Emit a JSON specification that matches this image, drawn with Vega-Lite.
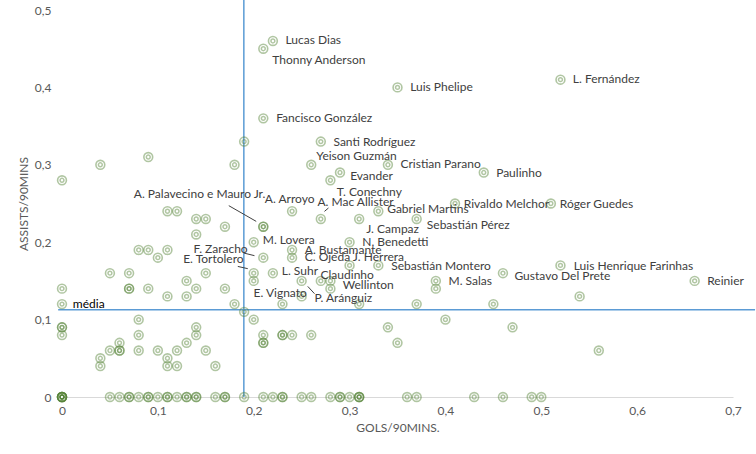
{
  "$schema": "https://vega.github.io/schema/vega-lite/v6.json",
  "width": 671,
  "height": 387,
  "autosize": {"type": "none"},
  "padding": {"left": 62, "top": 10, "right": 23, "bottom": 57},
  "background": "white",
  "config": {
    "view": {"stroke": null},
    "font": "Lato",
    "axis": {"labelFont": "Lato", "titleFont": "Lato", "labelColor": "#595959", "titleColor": "#595959", "labelFontSize": 12, "titleFontSize": 12, "titleFontWeight": "normal", "grid": false, "ticks": false, "labelFlush": false, "labelOverlap": false}
  },
  "datasets": {
    "points": [
      {"gols": 0.22, "assists": 0.46, "name": "Lucas Dias"},
      {"gols": 0.21, "assists": 0.45, "name": "Thonny Anderson"},
      {"gols": 0.35, "assists": 0.40, "name": "Luis Phelipe"},
      {"gols": 0.52, "assists": 0.41, "name": "L. Fernández"},
      {"gols": 0.21, "assists": 0.36, "name": "Fancisco González"},
      {"gols": 0.27, "assists": 0.33, "name": "Santi Rodríguez"},
      {"gols": 0.26, "assists": 0.30, "name": "Yeison Guzmán"},
      {"gols": 0.34, "assists": 0.30, "name": "Cristian Parano"},
      {"gols": 0.29, "assists": 0.29, "name": "Evander"},
      {"gols": 0.44, "assists": 0.29, "name": "Paulinho"},
      {"gols": 0.28, "assists": 0.28, "name": "T. Conechny"},
      {"gols": 0.24, "assists": 0.24, "name": "A. Arroyo"},
      {"gols": 0.27, "assists": 0.23, "name": "A. Mac Allister"},
      {"gols": 0.33, "assists": 0.24, "name": "Gabriel Martins"},
      {"gols": 0.41, "assists": 0.25, "name": "Rivaldo Melchor"},
      {"gols": 0.51, "assists": 0.25, "name": "Róger Guedes"},
      {"gols": 0.37, "assists": 0.23, "name": "Sebastián Pérez"},
      {"gols": 0.31, "assists": 0.23, "name": "J. Campaz"},
      {"gols": 0.20, "assists": 0.20, "name": "M. Lovera"},
      {"gols": 0.30, "assists": 0.20, "name": "N. Benedetti"},
      {"gols": 0.24, "assists": 0.19, "name": "A. Bustamante"},
      {"gols": 0.24, "assists": 0.18, "name": "C. Ojeda"},
      {"gols": 0.30, "assists": 0.17, "name": "J. Herrera"},
      {"gols": 0.33, "assists": 0.17, "name": "Sebastián Montero"},
      {"gols": 0.39, "assists": 0.15, "name": "M. Salas"},
      {"gols": 0.52, "assists": 0.17, "name": "Luis Henrique Farinhas"},
      {"gols": 0.46, "assists": 0.16, "name": "Gustavo Del Prete"},
      {"gols": 0.66, "assists": 0.15, "name": "Reinier"},
      {"gols": 0.22, "assists": 0.16, "name": "L. Suhr"},
      {"gols": 0.27, "assists": 0.15, "name": "Claudinho"},
      {"gols": 0.28, "assists": 0.14, "name": "Wellinton"},
      {"gols": 0.25, "assists": 0.13, "name": "E. Vignato"},
      {"gols": 0.25, "assists": 0.15, "name": "P. Aránguiz"},
      {"gols": 0.21, "assists": 0.22, "name": "A. Palavecino"},
      {"gols": 0.21, "assists": 0.22, "name": "Mauro Jr."},
      {"gols": 0.21, "assists": 0.18, "name": "F. Zaracho"},
      {"gols": 0.20, "assists": 0.16, "name": "E. Tortolero"},
      {"gols": 0.19, "assists": 0.33}, {"gols": 0.09, "assists": 0.31}, {"gols": 0.04, "assists": 0.30},
      {"gols": 0.18, "assists": 0.30}, {"gols": 0.0, "assists": 0.28}, {"gols": 0.11, "assists": 0.24},
      {"gols": 0.12, "assists": 0.24}, {"gols": 0.14, "assists": 0.23}, {"gols": 0.15, "assists": 0.23},
      {"gols": 0.17, "assists": 0.22}, {"gols": 0.14, "assists": 0.21}, {"gols": 0.08, "assists": 0.19},
      {"gols": 0.09, "assists": 0.19}, {"gols": 0.11, "assists": 0.19}, {"gols": 0.10, "assists": 0.18},
      {"gols": 0.05, "assists": 0.16}, {"gols": 0.07, "assists": 0.16}, {"gols": 0.15, "assists": 0.16},
      {"gols": 0.20, "assists": 0.15}, {"gols": 0.13, "assists": 0.15}, {"gols": 0.0, "assists": 0.14},
      {"gols": 0.07, "assists": 0.14}, {"gols": 0.07, "assists": 0.14}, {"gols": 0.09, "assists": 0.14},
      {"gols": 0.14, "assists": 0.14}, {"gols": 0.17, "assists": 0.14}, {"gols": 0.11, "assists": 0.13},
      {"gols": 0.13, "assists": 0.13}, {"gols": 0.0, "assists": 0.12}, {"gols": 0.18, "assists": 0.12},
      {"gols": 0.19, "assists": 0.11}, {"gols": 0.20, "assists": 0.10}, {"gols": 0.0, "assists": 0.09},
      {"gols": 0.0, "assists": 0.09}, {"gols": 0.0, "assists": 0.08}, {"gols": 0.04, "assists": 0.05},
      {"gols": 0.04, "assists": 0.04}, {"gols": 0.05, "assists": 0.06}, {"gols": 0.06, "assists": 0.07},
      {"gols": 0.06, "assists": 0.06}, {"gols": 0.06, "assists": 0.06}, {"gols": 0.08, "assists": 0.10},
      {"gols": 0.08, "assists": 0.08}, {"gols": 0.08, "assists": 0.06}, {"gols": 0.10, "assists": 0.06},
      {"gols": 0.11, "assists": 0.05}, {"gols": 0.11, "assists": 0.04}, {"gols": 0.12, "assists": 0.04},
      {"gols": 0.12, "assists": 0.06}, {"gols": 0.13, "assists": 0.07}, {"gols": 0.14, "assists": 0.09},
      {"gols": 0.14, "assists": 0.08}, {"gols": 0.15, "assists": 0.06}, {"gols": 0.16, "assists": 0.04},
      {"gols": 0.21, "assists": 0.08}, {"gols": 0.21, "assists": 0.07}, {"gols": 0.21, "assists": 0.07},
      {"gols": 0.23, "assists": 0.08}, {"gols": 0.23, "assists": 0.08}, {"gols": 0.24, "assists": 0.08},
      {"gols": 0.26, "assists": 0.08}, {"gols": 0.34, "assists": 0.09}, {"gols": 0.35, "assists": 0.07},
      {"gols": 0.40, "assists": 0.10}, {"gols": 0.23, "assists": 0.12}, {"gols": 0.31, "assists": 0.12},
      {"gols": 0.37, "assists": 0.12}, {"gols": 0.45, "assists": 0.12}, {"gols": 0.47, "assists": 0.09},
      {"gols": 0.56, "assists": 0.06}, {"gols": 0.54, "assists": 0.13}, {"gols": 0.28, "assists": 0.15},
      {"gols": 0.39, "assists": 0.14},
      {"gols": 0.0, "assists": 0}, {"gols": 0.0, "assists": 0}, {"gols": 0.0, "assists": 0},
      {"gols": 0.0, "assists": 0}, {"gols": 0.0, "assists": 0}, {"gols": 0.0, "assists": 0},
      {"gols": 0.05, "assists": 0}, {"gols": 0.06, "assists": 0}, {"gols": 0.07, "assists": 0},
      {"gols": 0.07, "assists": 0}, {"gols": 0.08, "assists": 0}, {"gols": 0.09, "assists": 0},
      {"gols": 0.09, "assists": 0}, {"gols": 0.10, "assists": 0}, {"gols": 0.11, "assists": 0},
      {"gols": 0.11, "assists": 0}, {"gols": 0.12, "assists": 0}, {"gols": 0.13, "assists": 0},
      {"gols": 0.13, "assists": 0}, {"gols": 0.14, "assists": 0}, {"gols": 0.14, "assists": 0},
      {"gols": 0.16, "assists": 0}, {"gols": 0.17, "assists": 0}, {"gols": 0.17, "assists": 0},
      {"gols": 0.19, "assists": 0}, {"gols": 0.21, "assists": 0}, {"gols": 0.22, "assists": 0},
      {"gols": 0.23, "assists": 0}, {"gols": 0.23, "assists": 0}, {"gols": 0.25, "assists": 0},
      {"gols": 0.26, "assists": 0}, {"gols": 0.28, "assists": 0}, {"gols": 0.29, "assists": 0},
      {"gols": 0.29, "assists": 0}, {"gols": 0.30, "assists": 0}, {"gols": 0.31, "assists": 0},
      {"gols": 0.31, "assists": 0}, {"gols": 0.31, "assists": 0}, {"gols": 0.36, "assists": 0},
      {"gols": 0.37, "assists": 0}, {"gols": 0.43, "assists": 0}, {"gols": 0.46, "assists": 0},
      {"gols": 0.49, "assists": 0}, {"gols": 0.50, "assists": 0}
    ],
    "labels": [
      {"lx": 0.2332, "ly": 0.4612, "text": "Lucas Dias", "kind": "player"},
      {"lx": 0.2193, "ly": 0.4354, "text": "Thonny Anderson", "kind": "player"},
      {"lx": 0.3632, "ly": 0.4005, "text": "Luis Phelipe", "kind": "player"},
      {"lx": 0.5329, "ly": 0.4109, "text": "L. Fernández", "kind": "player"},
      {"lx": 0.2234, "ly": 0.3605, "text": "Fancisco González", "kind": "player"},
      {"lx": 0.2832, "ly": 0.3295, "text": "Santi Rodríguez", "kind": "player"},
      {"lx": 0.2652, "ly": 0.3109, "text": "Yeison Guzmán", "kind": "player"},
      {"lx": 0.3531, "ly": 0.3005, "text": "Cristian Parano", "kind": "player"},
      {"lx": 0.3006, "ly": 0.2850, "text": "Evander", "kind": "player"},
      {"lx": 0.4529, "ly": 0.2894, "text": "Paulinho", "kind": "player"},
      {"lx": 0.2867, "ly": 0.2649, "text": "T. Conechny", "kind": "player"},
      {"lx": 0.2116, "ly": 0.2558, "text": "A. Arroyo", "kind": "player"},
      {"lx": 0.2665, "ly": 0.2519, "text": "A. Mac Allister", "kind": "player"},
      {"lx": 0.3392, "ly": 0.2429, "text": "Gabriel Martins", "kind": "player"},
      {"lx": 0.4191, "ly": 0.2497, "text": "Rivaldo Melchor", "kind": "player"},
      {"lx": 0.5193, "ly": 0.2497, "text": "Róger Guedes", "kind": "player"},
      {"lx": 0.3806, "ly": 0.2226, "text": "Sebastián Pérez", "kind": "player"},
      {"lx": 0.3173, "ly": 0.2171, "text": "J. Campaz", "kind": "player"},
      {"lx": 0.2095, "ly": 0.2023, "text": "M. Lovera", "kind": "player"},
      {"lx": 0.3132, "ly": 0.1997, "text": "N. Benedetti", "kind": "player"},
      {"lx": 0.2533, "ly": 0.1903, "text": "A. Bustamante", "kind": "player"},
      {"lx": 0.2533, "ly": 0.1804, "text": "C. Ojeda", "kind": "player"},
      {"lx": 0.3034, "ly": 0.1809, "text": "J. Herrera", "kind": "player"},
      {"lx": 0.3434, "ly": 0.1696, "text": "Sebastián Montero", "kind": "player"},
      {"lx": 0.4032, "ly": 0.1503, "text": "M. Salas", "kind": "player"},
      {"lx": 0.5339, "ly": 0.1696, "text": "Luis Henrique Farinhas", "kind": "player"},
      {"lx": 0.4720, "ly": 0.1567, "text": "Gustavo Del Prete", "kind": "player"},
      {"lx": 0.6731, "ly": 0.1503, "text": "Reinier", "kind": "player"},
      {"lx": 0.2293, "ly": 0.1632, "text": "L. Suhr", "kind": "player"},
      {"lx": 0.2697, "ly": 0.1580, "text": "Claudinho", "kind": "player"},
      {"lx": 0.2929, "ly": 0.1451, "text": "Wellinton", "kind": "player"},
      {"lx": 0.1998, "ly": 0.1344, "text": "E. Vignato", "kind": "player"},
      {"lx": 0.2634, "ly": 0.1274, "text": "P. Aránguiz", "kind": "player"},
      {"lx": 0.0749, "ly": 0.2623, "text": "A. Palavecino e Mauro Jr.", "kind": "player"},
      {"lx": 0.1372, "ly": 0.1912, "text": "F. Zaracho", "kind": "player"},
      {"lx": 0.1264, "ly": 0.1783, "text": "E. Tortolero", "kind": "player"},
      {"lx": 0.0113, "ly": 0.1205, "text": "média", "kind": "mean"}
    ],
    "leaders": [
      {"x": 0.1740, "y": 0.2472, "x2": 0.2026, "y2": 0.2269},
      {"x": 0.1897, "y": 0.1860, "x2": 0.2008, "y2": 0.1826},
      {"x": 0.1834, "y": 0.1687, "x2": 0.1938, "y2": 0.1658},
      {"x": 0.2564, "y": 0.1429, "x2": 0.2634, "y2": 0.1335},
      {"x": 0.2738, "y": 0.2398, "x2": 0.2780, "y2": 0.2442}
    ],
    "means": [
      {"x": 0.1897, "x2": 0.1897, "y": 0, "y2": 0.513},
      {"x": -0.004, "x2": 0.723, "y": 0.1128, "y2": 0.1128}
    ]
  },
  "layer": [
    {
      "data": {"name": "means"},
      "mark": {"type": "rule", "color": "#5b9bd5", "strokeWidth": 1.5},
      "encoding": {
        "x": {"field": "x", "type": "quantitative", "scale": {"domain": [0, 0.7], "nice": false},
          "axis": {"values": [0, 0.1, 0.2, 0.3, 0.4, 0.5, 0.6, 0.7], "labelExpr": "replace(format(datum.value, ''), '.', ',')", "title": "GOLS/90MINS.", "domainColor": "#d9d9d9", "domainWidth": 1, "labelPadding": 8, "titlePadding": 6}},
        "x2": {"field": "x2"},
        "y": {"field": "y", "type": "quantitative", "scale": {"domain": [0, 0.5], "nice": false},
          "axis": {"values": [0, 0.05, 0.1, 0.15, 0.2, 0.25, 0.3, 0.35, 0.4, 0.45, 0.5], "labelExpr": "replace(format(datum.value, ''), '.', ',')", "title": "ASSISTS/90MINS", "domain": false, "labelPadding": 11, "titlePadding": 4}},
        "y2": {"field": "y2"}
      }
    },
    {
      "data": {"name": "points"},
      "mark": {"type": "point", "shape": "circle", "filled": false, "size": 78, "strokeWidth": 1.6, "color": "#548235", "strokeOpacity": 0.65},
      "encoding": {
        "x": {"field": "gols", "type": "quantitative"},
        "y": {"field": "assists", "type": "quantitative"}
      }
    },
    {
      "data": {"name": "points"},
      "mark": {"type": "point", "shape": "circle", "filled": false, "size": 15, "strokeWidth": 1.5, "color": "#548235", "strokeOpacity": 0.65},
      "encoding": {
        "x": {"field": "gols", "type": "quantitative"},
        "y": {"field": "assists", "type": "quantitative"}
      }
    },
    {
      "data": {"name": "leaders"},
      "mark": {"type": "rule", "color": "#404040", "strokeWidth": 1},
      "encoding": {
        "x": {"field": "x", "type": "quantitative"},
        "y": {"field": "y", "type": "quantitative"},
        "x2": {"field": "x2"},
        "y2": {"field": "y2"}
      }
    },
    {
      "data": {"name": "labels"},
      "mark": {"type": "text", "align": "left", "baseline": "middle", "fontSize": 12, "font": "Lato"},
      "encoding": {
        "x": {"field": "lx", "type": "quantitative"},
        "y": {"field": "ly", "type": "quantitative"},
        "text": {"field": "text"},
        "color": {"field": "kind", "type": "nominal", "scale": {"domain": ["player", "mean"], "range": ["#404040", "#000000"]}, "legend": null}
      }
    }
  ]
}
